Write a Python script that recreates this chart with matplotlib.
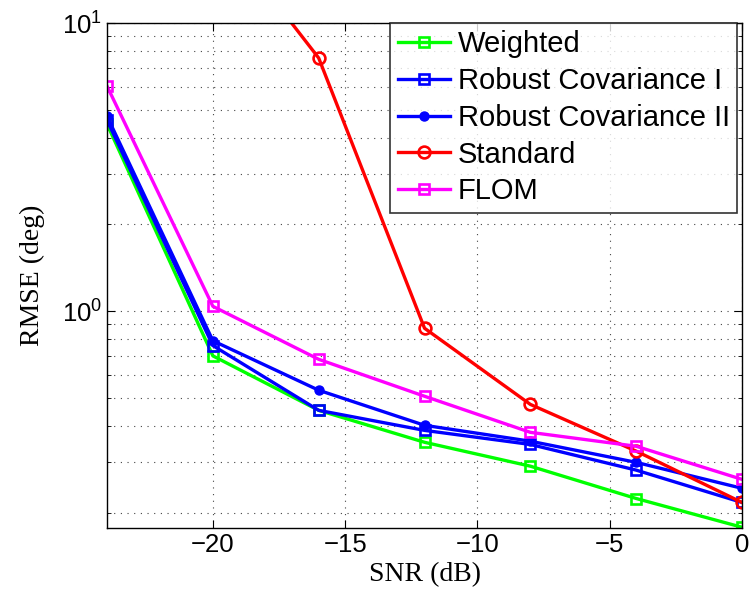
import matplotlib
matplotlib.use('Agg')
from matplotlib import pyplot as plt
from matplotlib.ticker import LogLocator, NullFormatter
import numpy as np

plt.rcParams['font.family'] = ['Liberation Sans', 'DejaVu Sans']
plt.rcParams['mathtext.fontset'] = 'custom'
plt.rcParams['mathtext.rm'] = 'Liberation Sans'

snr = [-24, -20, -16, -12, -8, -4, 0]

weighted = [4.46, 0.70, 0.453, 0.351, 0.290, 0.224, 0.178]
robust1 = [4.60, 0.76, 0.453, 0.386, 0.345, 0.281, 0.217]
robust2 = [4.75, 0.79, 0.532, 0.402, 0.354, 0.299, 0.243]
standard = [35.0, 22.5, 7.56, 0.873, 0.475, 0.327, 0.217]
flom = [6.04, 1.04, 0.681, 0.507, 0.380, 0.340, 0.261]

fig = plt.figure(figsize=(7.49, 6.01), dpi=100)
ax = fig.add_axes([0.1429, 0.1215, 0.8478, 0.8402])

lw = 2.4
ax.plot(snr, weighted, color='#00ff00', marker='s', ms=7.5, mfc='none', mew=1.9, lw=lw, label='Weighted')
ax.plot(snr, robust1, color='#0000ff', marker='s', ms=7.5, mfc='none', mew=1.9, lw=lw, label='Robust Covariance I')
ax.plot(snr, robust2, color='#0000ff', marker='o', ms=6.5, mfc='#0000ff', lw=lw, label='Robust Covariance II')
ax.plot(snr, standard, color='#ff0000', marker='o', ms=8.5, mfc='none', mew=1.9, lw=lw, label='Standard')
ax.plot(snr, flom, color='#ff00ff', marker='s', ms=7.5, mfc='none', mew=1.9, lw=lw, label='FLOM')

ax.set_yscale('log')
ax.set_xlim(-24, 0)
ax.set_ylim(0.177, 10)
ax.set_xticks([-20, -15, -10, -5, 0])
ax.yaxis.set_major_locator(LogLocator(base=10, numticks=10))
ax.yaxis.set_minor_locator(LogLocator(base=10, subs=np.arange(2, 10), numticks=20))
ax.yaxis.set_minor_formatter(NullFormatter())

ax.grid(True, which='major', linestyle=(0, (1, 5)), color='#444444', lw=0.8)
ax.grid(True, which='minor', axis='y', linestyle=(0, (1, 5)), color='#444444', lw=0.8)

ax.tick_params(which='both', direction='in', top=True, right=True, labelsize=18.5)
ax.tick_params(which='major', length=6)
ax.tick_params(which='minor', length=3)
for s in ax.spines.values():
    s.set_linewidth(1.0)

ax.set_xlabel('SNR (dB)', family='Liberation Serif', fontsize=20, labelpad=4)
ax.set_ylabel('RMSE (deg)', family='Liberation Serif', fontsize=20, labelpad=12)

leg = ax.legend(loc='upper right', bbox_to_anchor=(0.992, 1.0), fontsize=21,
                frameon=True, fancybox=False, edgecolor='black', borderaxespad=0.0,
                handlelength=1.8, labelspacing=0.3, borderpad=0.25, handletextpad=0.25)
leg.get_frame().set_linewidth(1.2)

plt.savefig('out.png', dpi=100)
